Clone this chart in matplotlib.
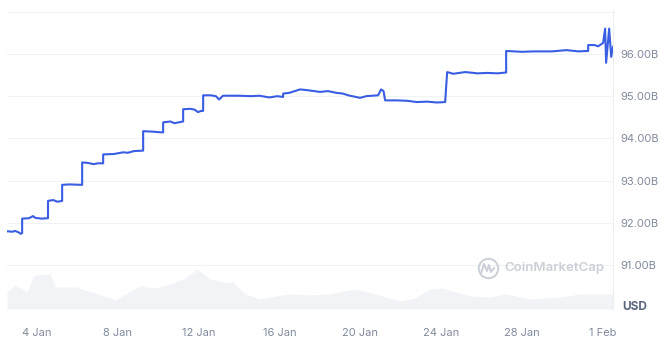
import matplotlib
matplotlib.use('Agg')
import matplotlib.pyplot as plt
from matplotlib.lines import Line2D

# price line: day of January (32 = 1 Feb) and market cap in billions USD
price_days = [2.51, 2.8, 2.9, 3.06, 3.2, 3.26, 3.26, 3.6, 3.8, 3.9, 4.2, 4.54, 4.54, 4.8, 5.0, 5.24,
              5.24, 5.6, 6.23, 6.23, 6.5, 6.8, 7.0, 7.27, 7.27, 7.8, 8.26, 8.5, 8.8, 9.25, 9.25,
              9.7, 10.24, 10.24, 10.6, 10.8, 11.23, 11.23, 11.6, 11.8, 11.97, 12.1, 12.22, 12.22,
              12.6, 12.85, 13.01, 13.2, 14.0, 14.6, 15.0, 15.5, 15.9, 16.18, 16.18, 16.5, 17.02,
              17.4, 18.01, 18.4, 18.8, 19.15, 19.4, 19.99, 20.3, 20.88, 21.03, 21.15, 21.23, 21.8,
              22.32, 22.8, 23.3, 23.8, 24.2, 24.3, 24.6, 25.2, 25.8, 26.3, 26.8, 27.22, 27.22,
              28.0, 28.6, 29.5, 30.2, 30.8, 31.28, 31.28, 31.6, 31.77, 32.02, 32.12, 32.17, 32.32,
              32.42, 32.51]
price_vals = [91.80, 91.79, 91.81, 91.78, 91.74, 91.76, 92.10, 92.11, 92.16, 92.12, 92.10, 92.11,
              92.52, 92.54, 92.50, 92.52, 92.90, 92.91, 92.90, 93.43, 93.42, 93.39, 93.41, 93.41,
              93.62, 93.63, 93.67, 93.66, 93.70, 93.71, 94.17, 94.16, 94.14, 94.38, 94.40, 94.36,
              94.40, 94.69, 94.70, 94.68, 94.62, 94.65, 94.65, 95.02, 95.02, 95.00, 94.92, 95.01,
              95.01, 95.00, 95.01, 94.97, 95.00, 94.98, 95.06, 95.08, 95.16, 95.14, 95.10, 95.12,
              95.08, 95.06, 95.02, 94.96, 95.00, 95.02, 95.16, 95.12, 94.90, 94.90, 94.89, 94.86,
              94.87, 94.85, 94.86, 95.57, 95.53, 95.57, 95.54, 95.55, 95.54, 95.56, 96.07, 96.05,
              96.06, 96.06, 96.09, 96.06, 96.07, 96.21, 96.21, 96.18, 96.26, 96.60, 95.79, 96.60,
              95.93, 96.17]

# volume band at the bottom (relative units)
vol_days = [2.51, 2.91, 3.5, 3.8, 3.9, 4.64, 4.9, 5.9, 7.0, 7.61, 7.86, 9.1, 9.84, 10.58,
            11.33, 11.92, 12.56, 13.55, 13.65, 14.3, 15.04, 15.78, 16.52, 17.51, 18.5, 19.74,
            20.73, 21.97, 22.71, 23.46, 24.05, 25.44, 26.43, 27.17, 28.41, 29.89, 30.88, 32.51]
vol_vals = [17, 24, 17, 32, 34, 35, 22, 22, 15, 11, 9, 23, 21, 25, 31, 40, 30, 26, 28, 15, 10,
            13, 15, 14, 15, 20, 15, 8, 11, 20, 21, 13, 12, 15, 10, 12, 15, 15]

tick_days = [4, 8, 12, 16, 20, 24, 28, 32]
tick_labels = ['4 Jan', '8 Jan', '12 Jan', '16 Jan', '20 Jan', '24 Jan', '28 Jan', '1 Feb']
y_ticks = [91, 92, 93, 94, 95, 96]
y_labels = ['91.00B', '92.00B', '93.00B', '94.00B', '95.00B', '96.00B']

plt.rcParams['font.family'] = ['Inter', 'DejaVu Sans']
grey = '#808a9d'
mark = '#cbd0d8'

W, H = 660, 342
fig = plt.figure(figsize=(W / 100, H / 100), dpi=100)
ax = fig.add_axes([7 / W, 1 - 309 / H, (613 - 7) / W, (309 - 10) / H])

# volume on a hidden twin axis
axv = ax.twinx()
axv.fill_between(vol_days, vol_vals, 0, color='#f1f3f6', lw=0)
axv.set_ylim(0, 299)
axv.axis('off')
ax.set_zorder(axv.get_zorder() + 1)
ax.patch.set_visible(False)

ax.plot(price_days, price_vals, color='#3a5ee3', lw=1.5)
ax.set_xlim(2.51, 32.51)
ax.set_ylim(89.96, 97.04)

for g in range(90, 98):
    ax.axhline(g, color='#f1f2f4', lw=0.8, zorder=0)

for s in ['top', 'left', 'bottom']:
    ax.spines[s].set_visible(False)
ax.spines['right'].set_color('#eceef1')
ax.spines['right'].set_linewidth(0.8)

ax.yaxis.tick_right()
ax.set_yticks(y_ticks)
ax.set_yticklabels(y_labels)
ax.set_xticks(tick_days)
ax.set_xticklabels(tick_labels)
ax.tick_params(axis='both', length=0, labelsize=8, colors=grey)
ax.tick_params(axis='y', pad=5)
ax.tick_params(axis='x', pad=14)

fig.text(635 / W, 1 - 307 / H, 'USD', ha='center', va='center', fontsize=8.5,
         fontweight='bold', color='#58667e')

# watermark
fig.text(504 / W, 1 - 268 / H, 'CoinMarketCap', ha='left', va='center', fontsize=9.5,
         fontweight='semibold', color=mark)
fig.add_artist(Line2D([488 / W], [1 - 268 / H], marker='o', markersize=14, mfc='none',
                      mec=mark, mew=1.4, transform=fig.transFigure))
fig.add_artist(Line2D([481 / W, 484 / W, 487 / W, 489 / W, 491 / W, 494 / W],
                      [1 - 273 / H, 1 - 264 / H, 1 - 271 / H, 1 - 265 / H, 1 - 272 / H, 1 - 268 / H],
                      color=mark, lw=1.4, transform=fig.transFigure))

fig.savefig('out.png', dpi=100, facecolor='white')
